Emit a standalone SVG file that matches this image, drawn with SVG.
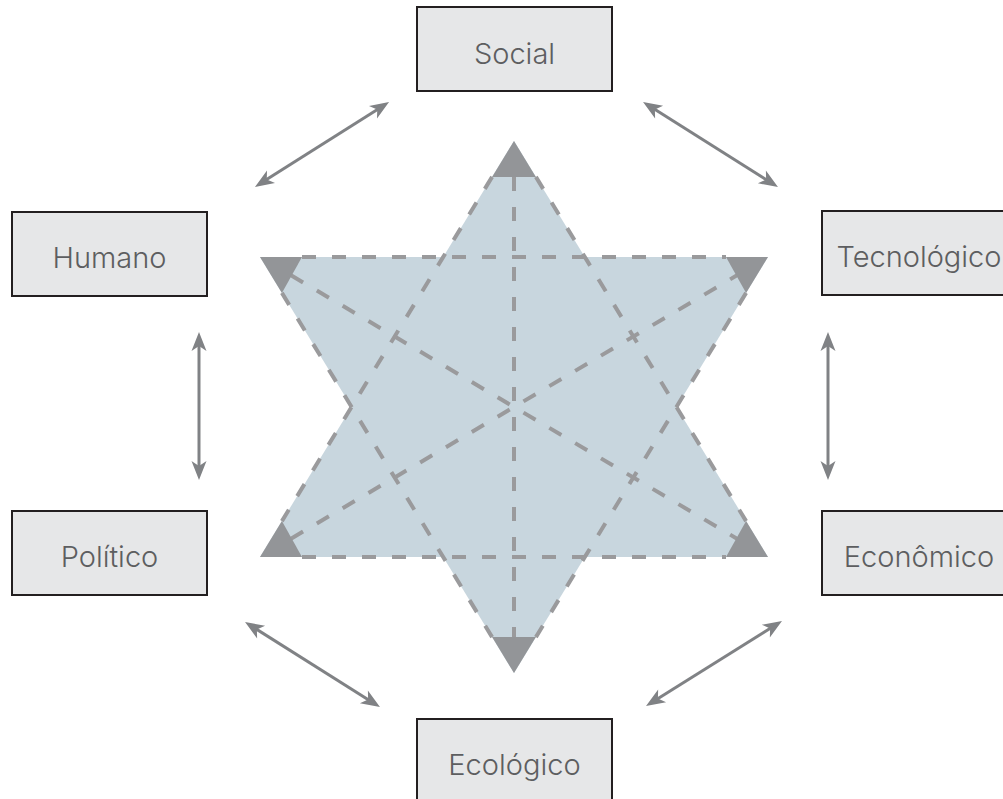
<svg xmlns="http://www.w3.org/2000/svg" width="1003" height="799" viewBox="0 0 1003 799">
<style>
.box{fill:#e6e7e8;stroke:#231f20;stroke-width:2}
.lbl{font-family:"Inter","Lato","Liberation Sans",sans-serif;font-weight:300;font-size:29px;fill:#5d5e60;text-anchor:middle}
.conn{stroke:#808285;stroke-width:3;fill:none;marker-start:url(#ah);marker-end:url(#ah)}
.dash{stroke:#9a9a9c;stroke-width:4;stroke-dasharray:14 16;fill:none}
.tip{fill:#939598}
.fillstar{fill:#c8d6de}
</style>
<defs>
<marker id="ah" markerUnits="userSpaceOnUse" markerWidth="30" markerHeight="20" viewBox="-15 -10 30 20" refX="0" refY="0" orient="auto-start-reverse">
<path d="M10,0 L-9,-7.5 L-4,0 L-9,7.5 Z" fill="#808285"/>
</marker>
</defs>
<rect width="1003" height="799" fill="#ffffff"/>
<g id="star">
<polygon class="fillstar" points="514,141 260,557 768,557"/>
<polygon class="fillstar" points="260,257 768,257 514,673"/>
<g id="star-lines">
<line class="dash" x1="492.1" y1="176.9" x2="281.9" y2="521.1"/>
<line class="dash" x1="535.9" y1="176.9" x2="746.1" y2="521.1"/>
<line class="dash" x1="302" y1="557" x2="726" y2="557"/>
<line class="dash" x1="302" y1="257" x2="726" y2="257"/>
<line class="dash" x1="281.9" y1="292.9" x2="492.1" y2="637.1"/>
<line class="dash" x1="746.1" y1="292.9" x2="535.9" y2="637.1"/>
<line class="dash" x1="514" y1="176.9" x2="514" y2="637.1"/>
<line class="dash" x1="291" y1="275.3" x2="737" y2="538.7"/>
<line class="dash" x1="291" y1="538.7" x2="737" y2="275.3"/>
</g>
<g id="star-tips">
<polygon class="tip" points="514,141 492.1,176.9 535.9,176.9"/>
<polygon class="tip" points="514,673 492.1,637.1 535.9,637.1"/>
<polygon class="tip" points="260,257 302,257 281.9,292.9"/>
<polygon class="tip" points="768,257 726,257 746.1,292.9"/>
<polygon class="tip" points="260,557 302,557 281.9,521.1"/>
<polygon class="tip" points="768,557 726,557 746.1,521.1"/>
</g>
</g>
<g id="connectors">
<line class="conn" x1="380.6" y1="107.4" x2="263.4" y2="181.6"/>
<line class="conn" x1="651.5" y1="107.3" x2="769.5" y2="181.7"/>
<line class="conn" x1="199" y1="342" x2="199" y2="470"/>
<line class="conn" x1="828" y1="342" x2="828" y2="470"/>
<line class="conn" x1="253.5" y1="627.3" x2="371.5" y2="701.7"/>
<line class="conn" x1="773.5" y1="626.3" x2="654.5" y2="700.7"/>
</g>
<g id="social"><rect class="box" x="417" y="7" width="195" height="84"/><text class="lbl" x="514.5" y="64">Social</text></g>
<g id="humano"><rect class="box" x="12" y="212" width="195" height="84"/><text class="lbl" x="109.5" y="268">Humano</text></g>
<g id="tecnologico"><rect class="box" x="822" y="211" width="195" height="84"/><text class="lbl" x="919" y="267">Tecnológico</text></g>
<g id="politico"><rect class="box" x="12" y="511" width="195" height="84"/><text class="lbl" x="109.5" y="567">Político</text></g>
<g id="economico"><rect class="box" x="822" y="511" width="195" height="84"/><text class="lbl" x="919" y="567">Econômico</text></g>
<g id="ecologico"><rect class="box" x="417" y="719" width="195" height="84"/><text class="lbl" x="514.5" y="775">Ecológico</text></g>
</svg>
